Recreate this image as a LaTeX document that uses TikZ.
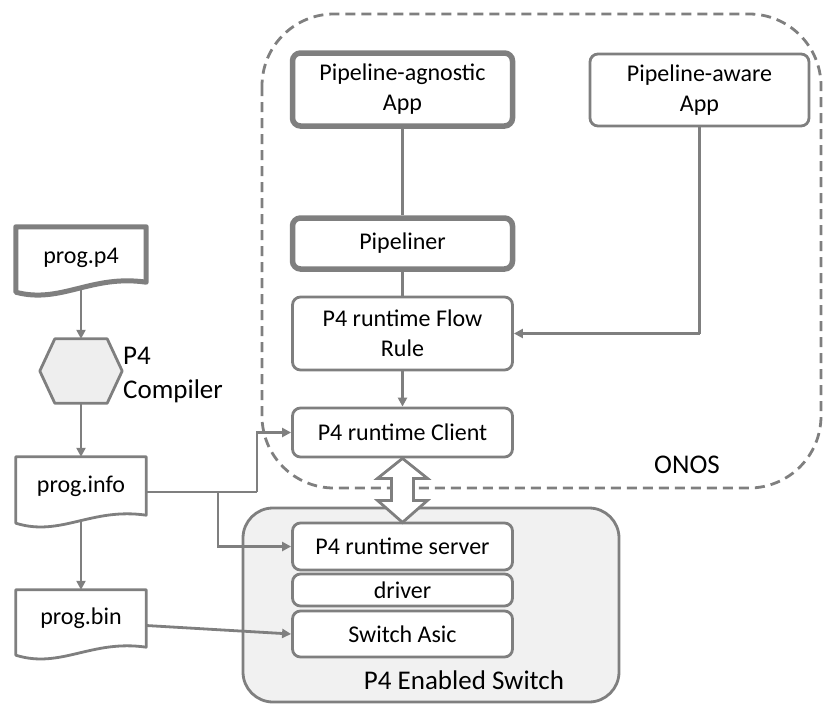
\documentclass[tikz,border=0pt]{standalone}
\usepackage{fontspec}
\setmainfont{Carlito}
\usetikzlibrary{arrows.meta,calc}
\definecolor{lg}{HTML}{7F7F7F}
\definecolor{swfill}{HTML}{F1F1F1}
\definecolor{hexfill}{HTML}{EEEEEE}
\begin{document}
\begin{tikzpicture}[x=1pt,y=-1pt,
  box/.style={draw=lg,line width=2.8pt,rounded corners=8pt,fill=white,minimum width=220pt,align=center,inner sep=0pt,font=\fontsize{24}{30}\selectfont},
  boldbox/.style={box,line width=5.5pt},
  docnode/.style={minimum width=130pt,inner sep=0pt,font=\fontsize{24}{30}\selectfont},
  docline/.style={draw=lg,line width=2.8pt,fill=white,line join=round},
  conn/.style={draw=lg,line width=2.8pt},
  arr/.style={conn,-{Triangle[length=9pt,width=9pt]}},
  lbl/.style={font=\fontsize{27}{34}\selectfont,inner sep=0pt}]
\useasboundingbox (0,0) rectangle (823,704);

% ONOS container
\draw[draw=lg,line width=2.8pt,dash pattern=on 10pt off 6pt,rounded corners=72pt] (262,14) rectangle (821,488);
\node[lbl] (onos) at (687,465) {ONOS};

% Switch container
\draw[draw=lg,line width=2.8pt,fill=swfill,rounded corners=30pt] (243,508) rectangle (619,702);
\node[lbl] (swl) at (464,680) {P4 Enabled Switch};

% ONOS boxes
\node[boldbox,minimum height=73pt] (agn) at (402.5,89.5) {Pipeline-agnostic\\App};
\node[box,minimum height=72pt,minimum width=219pt] (aware) at (699.5,90) {Pipeline-aware\\App};
\node[boldbox,minimum height=51pt] (pipe) at (402.5,243.5) {Pipeliner};
\node[box,minimum height=73pt] (flow) at (402.5,333.5) {P4 runtime Flow\\Rule};
\node[box,minimum height=49pt] (client) at (402.5,432.5) {P4 runtime Client};

% switch boxes
\node[box,minimum height=47pt] (server) at (402.5,546.5) {P4 runtime server};
\node[box,minimum height=32pt] (driver) at (402.5,590) {driver};
\node[box,minimum height=46pt] (asic) at (402.5,634) {Switch Asic};

% documents
\node[docnode,minimum height=55pt] (p4) at (81,254.5) {};
\draw[docline,line width=5pt] (p4.south east) -- (p4.north east) -- (p4.north west) -- ($(p4.south west)+(0,10)$) .. controls ($(p4.south west)+(45,22)$) and ($(p4.south east)+(-55,-8)$) .. (p4.south east) -- cycle;
\node[docnode] (p4t) at ([yshift=-3pt]p4.center) {prog.p4};

\node[docnode,minimum height=58pt] (info) at (81,486) {};
\draw[docline] (info.south east) -- (info.north east) -- (info.north west) -- ($(info.south west)+(0,8)$) .. controls ($(info.south west)+(45,22)$) and ($(info.south east)+(-55,-8)$) .. (info.south east) -- cycle;
\node[docnode] (infot) at (info) {prog.info};

\node[docnode,minimum height=57pt] (bin) at (81,618.5) {};
\draw[docline] (bin.south east) -- (bin.north east) -- (bin.north west) -- ($(bin.south west)+(0,8)$) .. controls ($(bin.south west)+(45,22)$) and ($(bin.south east)+(-55,-8)$) .. (bin.south east) -- cycle;
\node[docnode] (bint) at (bin) {prog.bin};

% compiler hexagon
\node[minimum width=82pt,minimum height=64pt,inner sep=0pt] (hex) at (81,371) {};
\draw[draw=lg,line width=2.8pt,fill=hexfill,line join=round] ($(hex.north west)+(15,0)$) -- ($(hex.north east)+(-15,0)$) -- (hex.east) -- ($(hex.south east)+(-15,0)$) -- ($(hex.south west)+(15,0)$) -- (hex.west) -- cycle;
\node[lbl,anchor=west,align=left] (hexl) at (123,375) {P4\\Compiler};

% connectors
\draw[arr] ($(p4.south)+(0,6)$) -- (hex.north);
\draw[arr] (hex.south) -- (info.north);
\draw[arr] ($(info.south)+(0,6)$) -- (bin.north);
\coordinate (j1) at (218,492);
\coordinate (j2) at (257,492);
\draw[conn] (info.east |- j1) -- (j2);
\draw[arr] (j2) |- (client.west);
\draw[arr] (j1) |- (server.west);
\draw[arr] ([yshift=-7pt]bin.east) -- (asic.west);

\draw[conn] (agn.south) -- (pipe.north);
\draw[conn] (pipe.south) -- (flow.north);
\draw[arr] (flow.south) -- (client.north);
\coordinate (ac) at (700,333.5);
\draw[conn] (aware.south) -- (aware.south |- ac);
\draw[arr] (aware.south |- ac) -- (flow.east);

% bidirectional block arrow
\draw[draw=lg,line width=2.8pt,fill=white,line join=miter] (client.south) -- ++(-25,20) -- ++(14,0) -- ++(0,22) -- ++(-14,0) -- ++(25,22) -- ++(25,-22) -- ++(-14,0) -- ++(0,-22) -- ++(14,0) -- cycle;
\end{tikzpicture}
\end{document}
